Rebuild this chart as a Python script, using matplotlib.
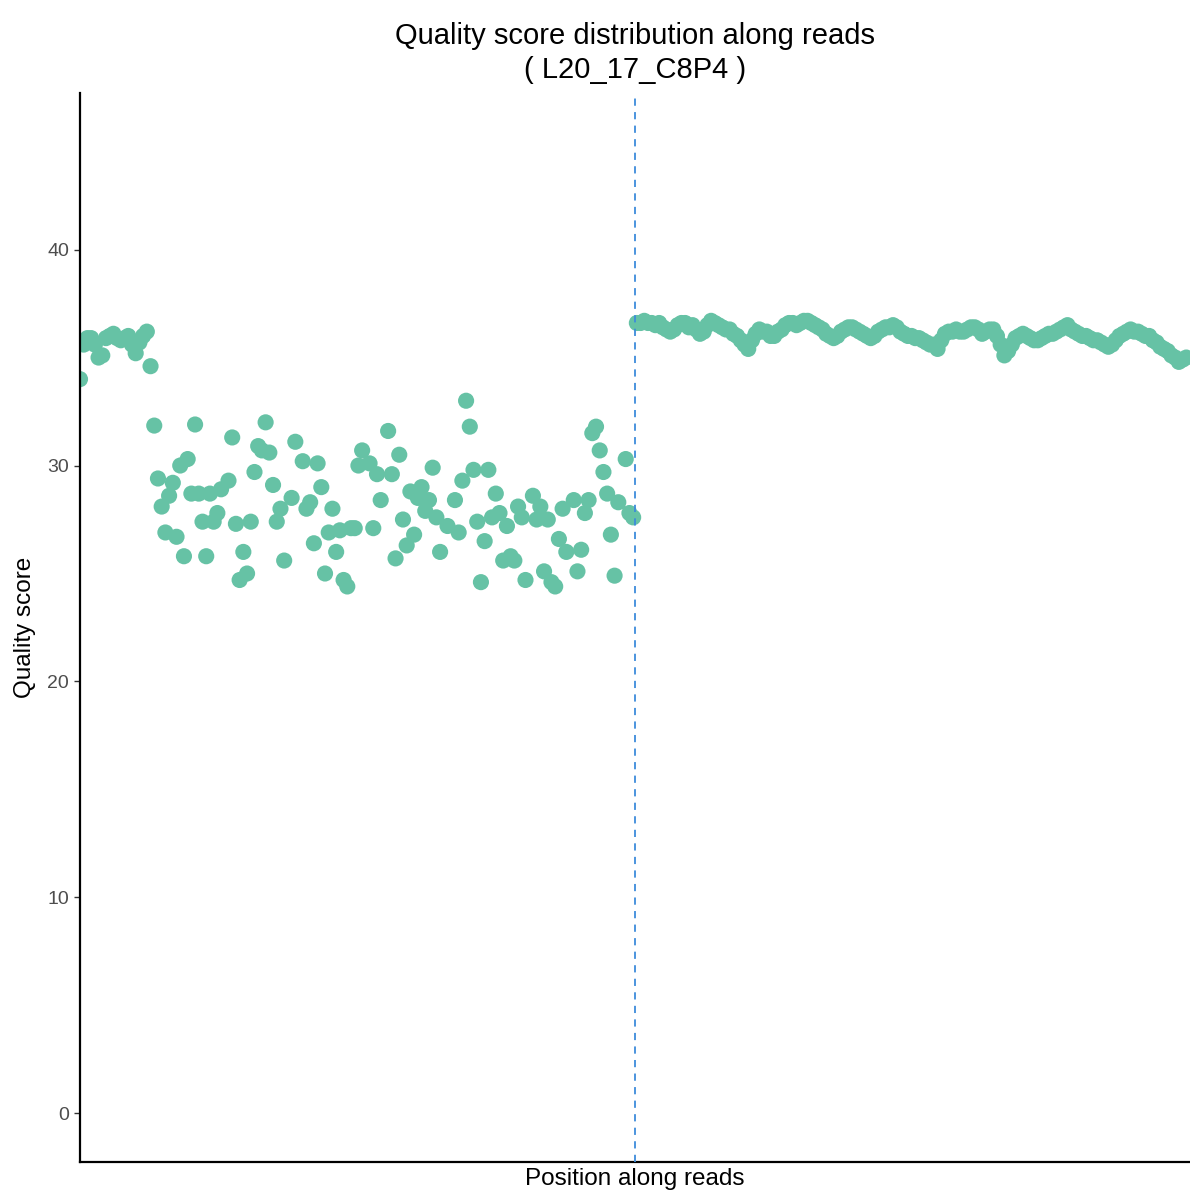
import matplotlib
matplotlib.use("Agg")
import matplotlib.pyplot as plt

# ---- data ----
read1_head_pos = list(range(1, 21))
read1_head_q = [34.0, 35.6, 35.9, 35.9, 35.6, 35.0, 35.1, 35.9, 36.0, 36.1,
                35.9, 35.8, 35.9, 36.0, 35.6, 35.2, 35.7, 36.0, 36.2, 34.6]

read1_tail_pos = [21, 22, 23, 24, 25, 26, 27, 28, 29, 30, 31, 32, 33, 34, 35, 36, 37, 38,
                  39, 41, 42, 43, 44, 45, 46, 47, 48, 49, 50, 51, 52, 53, 54, 55, 56,
                  58, 59, 61, 62, 63, 64, 65, 66, 67, 68, 69, 70, 71, 72, 73, 74, 75,
                  76, 77, 79, 80, 81, 82, 84, 85, 86, 87, 88, 89, 90, 91, 92, 93, 94,
                  95, 96, 97, 98, 100, 102, 103, 104, 105, 106, 107, 108, 109, 110, 111,
                  112, 113, 114, 115, 116, 117, 118, 119, 120, 121, 123, 124, 125, 126,
                  127, 128, 129, 130, 131, 132, 134, 135, 136, 137, 138, 139, 140, 141,
                  142, 143, 144, 145, 146, 148, 149, 150]
read1_tail_q = [31.85, 29.4, 28.1, 26.9, 28.6, 29.2, 26.7, 30.0, 25.8, 30.3, 28.7, 31.9,
                28.7, 27.4, 25.8, 28.7, 27.4, 27.8,
                28.9, 29.3, 31.3, 27.3, 24.7, 26.0, 25.0, 27.4, 29.7, 30.9, 30.7, 32.0,
                30.6, 29.1, 27.4, 28.0, 25.6,
                28.5, 31.1, 30.2, 28.0, 28.3, 26.4, 30.1, 29.0, 25.0, 26.9, 28.0, 26.0,
                27.0, 24.7, 24.4, 27.1, 27.1,
                30.0, 30.7, 30.1, 27.1, 29.6, 28.4, 31.6, 29.6, 25.7, 30.5, 27.5, 26.3,
                28.8, 26.8, 28.5, 29.0, 27.9,
                28.4, 29.9, 27.6, 26.0, 27.2, 28.4, 26.9, 29.3, 33.0, 31.8, 29.8, 27.4,
                24.6, 26.5, 29.8,
                27.6, 28.7, 27.8, 25.6, 27.2, 25.8, 25.6, 28.1, 27.6, 24.7, 28.6, 27.5,
                28.1, 25.1,
                27.5, 24.6, 24.4, 26.6, 28.0, 26.0, 28.4, 25.1, 26.1, 27.8, 28.4, 31.5,
                31.8, 30.7,
                29.7, 28.7, 26.8, 24.9, 28.3, 30.3, 27.8, 27.6]

read2_pos = list(range(151, 300))
read2_q = [36.6, 36.6, 36.7, 36.6, 36.6, 36.5, 36.6, 36.4, 36.3, 36.2,
           36.3, 36.5, 36.6, 36.6, 36.4, 36.5, 36.3, 36.1, 36.2, 36.5,
           36.7, 36.6, 36.5, 36.4, 36.3, 36.3, 36.1, 36.0, 35.8, 35.6,
           35.4, 35.8, 36.1, 36.3, 36.2, 36.2, 36.0, 36.0, 36.2, 36.3,
           36.5, 36.6, 36.6, 36.5, 36.6, 36.7, 36.7, 36.6, 36.5, 36.4,
           36.3, 36.1, 36.0, 35.9, 36.0, 36.2, 36.3, 36.4, 36.4, 36.3,
           36.2, 36.1, 36.0, 35.9, 36.0, 36.2, 36.3, 36.4, 36.4, 36.5,
           36.4, 36.2, 36.1, 36.0, 36.0, 35.9, 35.9, 35.8, 35.7, 35.6,
           35.6, 35.4, 35.8, 36.1, 36.2, 36.2, 36.3, 36.2, 36.2, 36.3,
           36.4, 36.4, 36.3, 36.1, 36.2, 36.3, 36.3, 36.0, 35.6, 35.1,
           35.3, 35.6, 35.9, 36.0, 36.1, 36.0, 35.9, 35.8, 35.8, 35.9,
           36.0, 36.1, 36.1, 36.2, 36.3, 36.4, 36.5, 36.3, 36.2, 36.1,
           36.0, 36.0, 35.9, 35.8, 35.8, 35.7, 35.6, 35.5, 35.6, 35.8,
           36.0, 36.1, 36.2, 36.3, 36.2, 36.2, 36.1, 36.0, 36.0, 35.8,
           35.7, 35.5, 35.4, 35.3, 35.1, 35.0, 34.8, 34.9, 35.0]

split_position = 150.5
y_ticks = [0, 10, 20, 30, 40]

title_text = "Quality score distribution along reads\n( L20_17_C8P4 )"
x_label = "Position along reads"
y_label = "Quality score"

# ---- figure ----
W, H = 1190, 1194
fig = plt.figure(figsize=(W / 100, H / 100), dpi=100)
plt.rcParams['font.family'] = ['Liberation Sans', 'DejaVu Sans']

left, right, top, bottom = 80, 1190, 93, 1162
ax = fig.add_axes([left / W, (H - bottom) / H, (right - left) / W, (bottom - top) / H])

pos = read1_head_pos + read1_tail_pos + read2_pos
q = read1_head_q + read1_tail_q + read2_q
ax.scatter(pos, q, s=135, color='#66C2A5', edgecolors='none', zorder=2)

ax.axvline(split_position, color='#3D8BDB', linestyle=(0, (4, 3.5)), linewidth=1.3, zorder=3)

ax.set_xlim(1, 300)
ax.set_ylim(-2.25, 47.25)
ax.set_yticks(y_ticks)
ax.set_xticks([])
ax.tick_params(axis='y', direction='out', length=4, width=1, color='#333333',
               labelsize=14, labelcolor='#4D4D4D', pad=4)

for s in ['top', 'right']:
    ax.spines[s].set_visible(False)
for s in ['left', 'bottom']:
    ax.spines[s].set_linewidth(1.6)
    ax.spines[s].set_color('black')

ax.set_xlabel(x_label, fontsize=17.5, labelpad=4)
ax.set_ylabel(y_label, fontsize=17.5, labelpad=8)
ax.set_title(title_text, fontsize=21, linespacing=1.25, pad=11)

fig.savefig('out.png', dpi=100, facecolor='white')
